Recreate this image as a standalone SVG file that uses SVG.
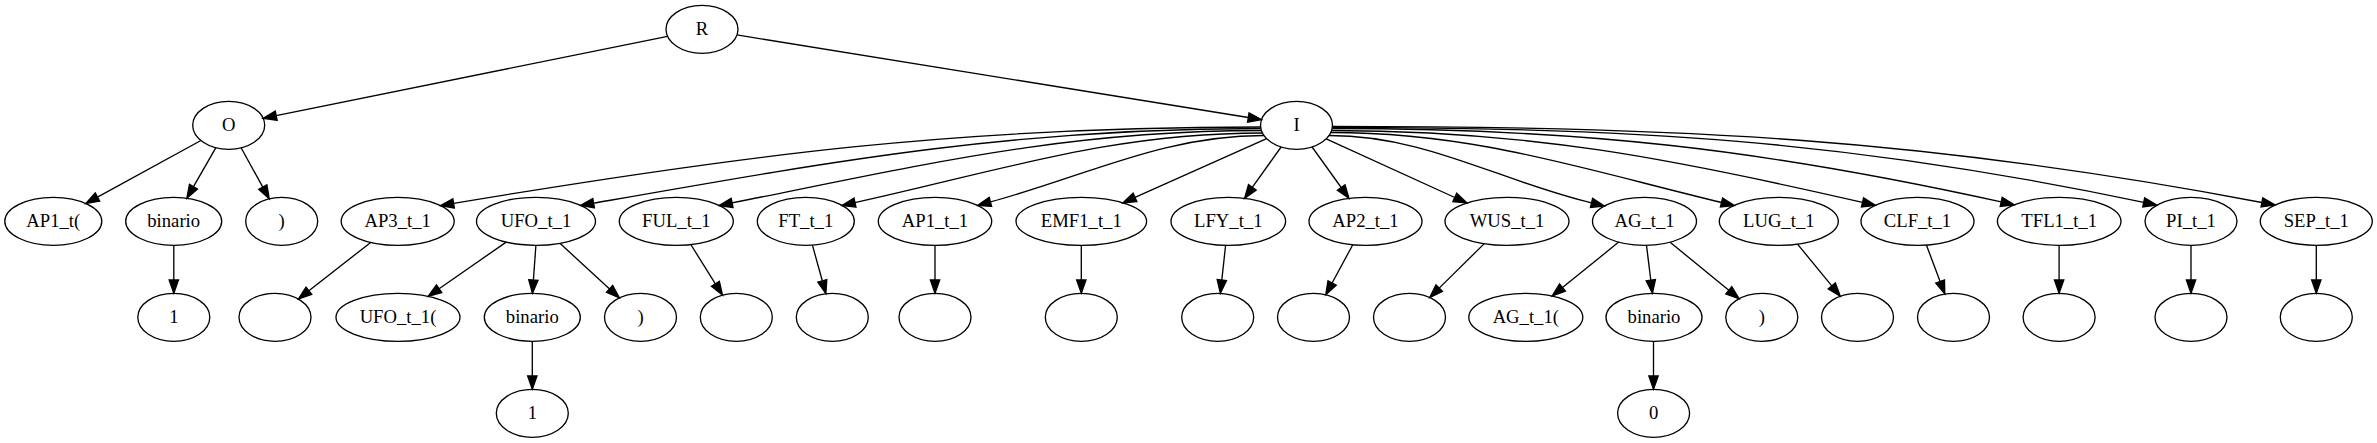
<svg xmlns="http://www.w3.org/2000/svg" width="2377" height="443" viewBox="0 0 2377 443">
<defs>
<marker id="arr" markerUnits="userSpaceOnUse" markerWidth="16" markerHeight="12" refX="0" refY="4.67" orient="auto" overflow="visible">
<path d="M0,0 L13.33,4.67 L0,9.33 z" fill="#000" stroke="#000" stroke-width="1.33"/>
</marker>
</defs>
<style>
ellipse{fill:none;stroke:#000;stroke-width:1.33}
text{font-family:"Liberation Serif","Times New Roman",serif;font-size:18.67px;text-anchor:middle;fill:#000}
#edges path{fill:none;stroke:#000;stroke-width:1.33;marker-end:url(#arr)}
</style>
<rect width="2377" height="443" fill="#fff"/>
<g id="edges">
<path d="M667.6,36.3 L276.2,115.7"/>
<path d="M737,34.95 L1248.3,117.5"/>
<path d="M200.9,140.5 L97.5,197.1"/>
<path d="M215.9,147.7 L193.5,186.7"/>
<path d="M241.1,147.8 L262.8,187.1"/>
<path d="M173.8,245.3 L173.8,280"/>
<path d="M370.7,242.4 L308.9,290.8"/>
<path d="M506.2,242.1 L439.1,288.7"/>
<path d="M535.9,245.3 L533.4,280"/>
<path d="M559.9,243.3 L609.6,288.9"/>
<path d="M532.3,341.3 L532.3,376"/>
<path d="M690.8,244.5 L715.4,283.8"/>
<path d="M812.4,245.1 L822.3,280.8"/>
<path d="M935,245.3 L935,280"/>
<path d="M1081.3,245.3 L1081.3,280"/>
<path d="M1225.6,245.3 L1221.8,280.1"/>
<path d="M1352.8,244.7 L1332.1,283"/>
<path d="M1484.3,243.6 L1439.2,288.1"/>
<path d="M1618.7,242.1 L1562.5,287.6"/>
<path d="M1646.5,245.3 L1650.8,280.1"/>
<path d="M1670.1,242.2 L1728.8,290.3"/>
<path d="M1653.5,341.3 L1653.5,376"/>
<path d="M1797.5,244.1 L1831.8,285.9"/>
<path d="M1926.4,245 L1940.1,281.5"/>
<path d="M2059.1,245.3 L2059.1,280"/>
<path d="M2191,245.3 L2191,280"/>
<path d="M2316.3,245.3 L2316.3,280"/>
<path d="M1266.6,138.6 L1135,197.4"/>
<path d="M1281.1,147 L1252.3,187.4"/>
<path d="M1312.1,147 L1341.2,187.5"/>
<path d="M1326.2,138.9 L1454.8,197.5"/>
<path d="M1260.7,127 C960.7,127 749.4,153.9 453.6,203.4"/>
<path d="M1260.8,128.5 C1013.8,128.5 836.9,160.5 593.6,203.2"/>
<path d="M1261.4,130.5 C1065.4,130.5 924.4,164.5 732.1,202.9"/>
<path d="M1262.4,133 C1111.4,133 1002.5,170.1 855,202.6"/>
<path d="M1263.9,135.5 C1162.9,135.5 1087.9,175.5 990.4,201.9"/>
<path d="M1329.1,135.5 C1426.1,135.5 1497.2,180.2 1591.5,202.9"/>
<path d="M1330.8,132.5 C1475.4,132.5 1581,168.7 1721.5,202.5"/>
<path d="M1331.7,130.5 C1528.1,130.5 1671,158.4 1862.5,202.4"/>
<path d="M1332.3,128.5 C1579.8,128.5 1759.4,148.7 2001.2,201.9"/>
<path d="M1332.4,127.3 C1632.4,127.3 1850,140.5 2143.7,202.3"/>
<path d="M1332.5,126.3 C1676.5,126.3 1924.1,138.2 2261.9,202.5"/>
</g>
<g id="n_R"><ellipse cx="702" cy="29.3" rx="36" ry="24"/><text x="702" y="34.9">R</text></g>
<g id="n_O"><ellipse cx="228.7" cy="125.3" rx="36" ry="24"/><text x="228.7" y="130.9">O</text></g>
<g id="n_I"><ellipse cx="1296.5" cy="125.3" rx="36" ry="24"/><text x="1296.5" y="130.9">I</text></g>
<g id="n_AP1_t_open"><ellipse cx="53.3" cy="221.3" rx="48.5" ry="24"/><text x="53.3" y="226.9">AP1_t(</text></g>
<g id="n_O_binario"><ellipse cx="173.7" cy="221.3" rx="48" ry="24"/><text x="173.7" y="226.9">binario</text></g>
<g id="n_O_close"><ellipse cx="281.7" cy="221.3" rx="36" ry="24"/><text x="281.7" y="226.9">)</text></g>
<g id="n_AP3_t_1"><ellipse cx="397.7" cy="221.3" rx="56.5" ry="24"/><text x="397.7" y="226.9">AP3_t_1</text></g>
<g id="n_UFO_t_1"><ellipse cx="536" cy="221.3" rx="59.5" ry="24"/><text x="536" y="226.9">UFO_t_1</text></g>
<g id="n_FUL_t_1"><ellipse cx="676.3" cy="221.3" rx="57" ry="24"/><text x="676.3" y="226.9">FUL_t_1</text></g>
<g id="n_FT_t_1"><ellipse cx="805.8" cy="221.3" rx="48.5" ry="24"/><text x="805.8" y="226.9">FT_t_1</text></g>
<g id="n_AP1_t_1"><ellipse cx="935" cy="221.3" rx="56.7" ry="24"/><text x="935" y="226.9">AP1_t_1</text></g>
<g id="n_EMF1_t_1"><ellipse cx="1081.3" cy="221.3" rx="65.3" ry="24"/><text x="1081.3" y="226.9">EMF1_t_1</text></g>
<g id="n_LFY_t_1"><ellipse cx="1228.3" cy="221.3" rx="57.3" ry="24"/><text x="1228.3" y="226.9">LFY_t_1</text></g>
<g id="n_AP2_t_1"><ellipse cx="1365.5" cy="221.3" rx="56.5" ry="24"/><text x="1365.5" y="226.9">AP2_t_1</text></g>
<g id="n_WUS_t_1"><ellipse cx="1507" cy="221.3" rx="62" ry="24"/><text x="1507" y="226.9">WUS_t_1</text></g>
<g id="n_AG_t_1"><ellipse cx="1644.5" cy="221.3" rx="52" ry="24"/><text x="1644.5" y="226.9">AG_t_1</text></g>
<g id="n_LUG_t_1"><ellipse cx="1778.8" cy="221.3" rx="59.5" ry="24"/><text x="1778.8" y="226.9">LUG_t_1</text></g>
<g id="n_CLF_t_1"><ellipse cx="1917.5" cy="221.3" rx="56.5" ry="24"/><text x="1917.5" y="226.9">CLF_t_1</text></g>
<g id="n_TFL1_t_1"><ellipse cx="2059.2" cy="221.3" rx="61.8" ry="24"/><text x="2059.2" y="226.9">TFL1_t_1</text></g>
<g id="n_PI_t_1"><ellipse cx="2191" cy="221.3" rx="46" ry="24"/><text x="2191" y="226.9">PI_t_1</text></g>
<g id="n_SEP_t_1"><ellipse cx="2316.3" cy="221.3" rx="56" ry="24"/><text x="2316.3" y="226.9">SEP_t_1</text></g>
<g id="n_O_one"><ellipse cx="173.8" cy="317.3" rx="36" ry="24"/><text x="173.8" y="322.9">1</text></g>
<g id="n_AP3_e"><ellipse cx="275" cy="317.3" rx="36" ry="24"/></g>
<g id="n_UFO_open"><ellipse cx="398" cy="317.3" rx="62" ry="24"/><text x="398" y="322.9">UFO_t_1(</text></g>
<g id="n_UFO_binario"><ellipse cx="532.3" cy="317.3" rx="48" ry="24"/><text x="532.3" y="322.9">binario</text></g>
<g id="n_UFO_close"><ellipse cx="640.5" cy="317.3" rx="36" ry="24"/><text x="640.5" y="322.9">)</text></g>
<g id="n_FUL_e"><ellipse cx="736.3" cy="317.3" rx="36" ry="24"/></g>
<g id="n_FT_e"><ellipse cx="832.3" cy="317.3" rx="36" ry="24"/></g>
<g id="n_AP1_e"><ellipse cx="935" cy="317.3" rx="36" ry="24"/></g>
<g id="n_EMF1_e"><ellipse cx="1081.3" cy="317.3" rx="36" ry="24"/></g>
<g id="n_LFY_e"><ellipse cx="1217.7" cy="317.3" rx="36" ry="24"/></g>
<g id="n_AP2_e"><ellipse cx="1313.5" cy="317.3" rx="36" ry="24"/></g>
<g id="n_WUS_e"><ellipse cx="1409.5" cy="317.3" rx="36" ry="24"/></g>
<g id="n_AG_open"><ellipse cx="1525.8" cy="317.3" rx="57" ry="24"/><text x="1525.8" y="322.9">AG_t_1(</text></g>
<g id="n_AG_binario"><ellipse cx="1654" cy="317.3" rx="48" ry="24"/><text x="1654" y="322.9">binario</text></g>
<g id="n_AG_close"><ellipse cx="1761.8" cy="317.3" rx="36" ry="24"/><text x="1761.8" y="322.9">)</text></g>
<g id="n_LUG_e"><ellipse cx="1857.5" cy="317.3" rx="36" ry="24"/></g>
<g id="n_CLF_e"><ellipse cx="1953.5" cy="317.3" rx="36" ry="24"/></g>
<g id="n_TFL1_e"><ellipse cx="2059.1" cy="317.3" rx="36" ry="24"/></g>
<g id="n_PI_e"><ellipse cx="2191" cy="317.3" rx="36" ry="24"/></g>
<g id="n_SEP_e"><ellipse cx="2316.3" cy="317.3" rx="36" ry="24"/></g>
<g id="n_UFO_one"><ellipse cx="532.3" cy="413.3" rx="36" ry="24"/><text x="532.3" y="418.9">1</text></g>
<g id="n_AG_zero"><ellipse cx="1653.6" cy="413.3" rx="36" ry="24"/><text x="1653.6" y="418.9">0</text></g>
</svg>
